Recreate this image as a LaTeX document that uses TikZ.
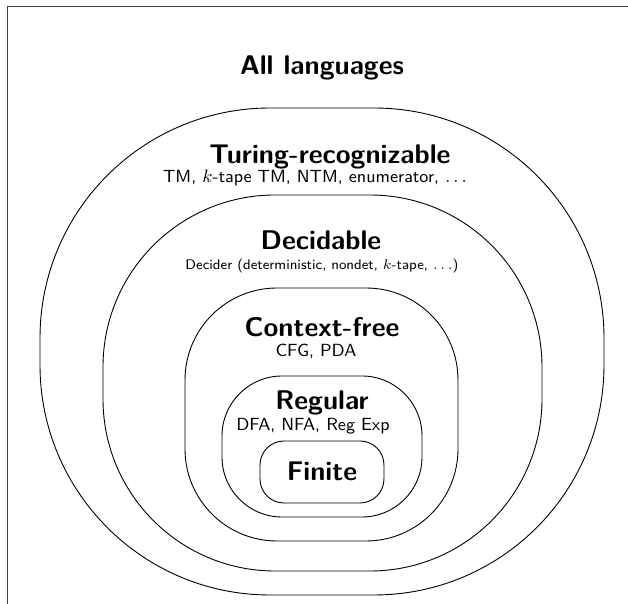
\documentclass[tikz,border=0pt]{standalone}
\usepackage{tikz}

\tikzset{
  setname/.style={font=\sffamily\bfseries\fontsize{13.5}{16}\selectfont, anchor=base, inner sep=0pt},
  setinfo/.style={font=\sffamily\fontsize{8.8}{11}\selectfont, anchor=base, inner sep=0pt},
  setnote/.style={font=\sffamily\fontsize{7}{9}\selectfont, anchor=base, inner sep=0pt},
  setline/.style={line width=0.45pt}
}

\begin{document}
\begin{tikzpicture}[x=0.5pt,y=-0.5pt]
\useasboundingbox (0,0) rectangle (628,604);
\clip (0,0) rectangle (628,604);

% frame
\draw[line width=0.7pt,color=black!75] (7.5,700) -- (7.5,6.5) -- (700,6.5);

% the nested classes, outermost first
\draw[setline] (270,108) -- (374,108) arc[start angle=-90,end angle=0,radius=230] -- (604,365) arc[start angle=0,end angle=90,radius=230] -- (270,595) arc[start angle=90,end angle=180,radius=230] -- (40,338) arc[start angle=180,end angle=270,radius=230] -- cycle;
\draw[setline] (275,195) -- (370,195) arc[start angle=-90,end angle=0,radius=172] -- (542,399) arc[start angle=0,end angle=90,radius=172] -- (275,571) arc[start angle=90,end angle=180,radius=172] -- (103,367) arc[start angle=180,end angle=270,radius=172] -- cycle;
\draw[setline] (277,288) -- (366,288) arc[start angle=-90,end angle=0,radius=92] -- (458,449) arc[start angle=0,end angle=90,radius=92] -- (277,541) arc[start angle=90,end angle=180,radius=92] -- (185,380) arc[start angle=180,end angle=270,radius=92] -- cycle;
\draw[setline] (282,376) -- (362,376) arc[start angle=-90,end angle=0,radius=60] -- (422,457) arc[start angle=0,end angle=90,radius=60] -- (282,517) arc[start angle=90,end angle=180,radius=60] -- (222,436) arc[start angle=180,end angle=270,radius=60] -- cycle;
\draw[setline] (284,441) -- (360,441) arc[start angle=-90,end angle=0,radius=24] -- (384,479) arc[start angle=0,end angle=90,radius=24] -- (284,503) arc[start angle=90,end angle=180,radius=24] -- (260,465) arc[start angle=180,end angle=270,radius=24] -- cycle;

\node[setname] (all) at (322,75) {All languages};

\node[setname] (tm) at (330,164) {Turing-recognizable};
\node[setinfo] (tminfo) at (315,183) {TM, $k$-tape TM, NTM, enumerator, $\ldots$};

\node[setname] (dec) at (321,250) {Decidable};
\node[setnote] (decinfo) at (322,270) {Decider (deterministic, nondet, $k$-tape, $\ldots$)};

\node[setname] (cf) at (322,337) {Context-free};
\node[setinfo] (cfinfo) at (316,357) {CFG, PDA};

\node[setname] (reg) at (322,410) {Regular};
\node[setinfo] (reginfo) at (313,431) {DFA, NFA, Reg Exp};

\node[setname] (fin) at (322,481) {Finite};

\end{tikzpicture}
\end{document}
